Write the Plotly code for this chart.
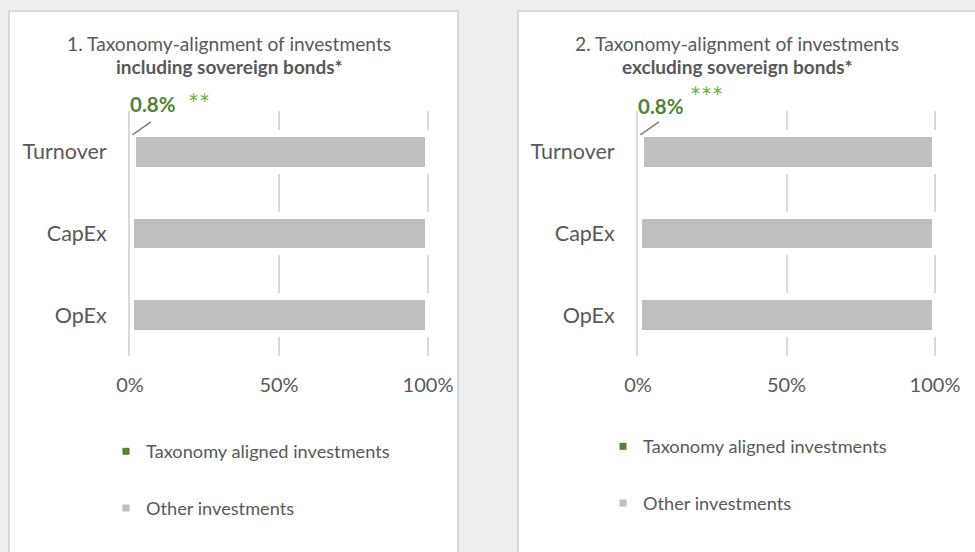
import plotly.graph_objects as go

# ---- data ----
categories = ["Turnover", "CapEx", "OpEx"]
aligned_incl = [0.8, 0.0, 0.0]
other_incl = [99.2, 100.0, 100.0]
aligned_excl = [0.8, 0.0, 0.0]
other_excl = [99.2, 100.0, 100.0]
x_ticks = [0, 50, 100]
x_tick_labels = ["0%", "50%", "100%"]
series_names = ["Taxonomy aligned investments", "Other investments"]
panel_titles = [("1. Taxonomy-alignment of investments", "including sovereign bonds*"),
                ("2. Taxonomy-alignment of investments", "excluding sovereign bonds*")]
aligned_label = "0.8%"
footnote_marks = ["**", "***"]

GREEN = "#548235"
LIGHT_GREEN = "#70ad47"
GREY_BAR = "#bfbfbf"
GRID = "#d9d9d9"
TEXT = "#595959"
FONT = "Lato"
W, H = 975, 552
X_MAX = 100.8

fig = go.Figure()

panels = [(aligned_incl, other_incl, "x", "y", "legend"),
          (aligned_excl, other_excl, "x2", "y2", "legend2")]
for aligned, other, xa, ya, lg in panels:
    fig.add_trace(go.Bar(y=categories, x=aligned, orientation="h", name=series_names[0],
                         marker=dict(color=GREEN, line=dict(color="white", width=7)),
                         width=0.45, xaxis=xa, yaxis=ya, showlegend=False, hoverinfo="x+y"))
    fig.add_trace(go.Bar(y=categories, x=other, orientation="h", name=series_names[1],
                         marker=dict(color=GREY_BAR, line=dict(color="white", width=7)),
                         width=0.45, xaxis=xa, yaxis=ya, showlegend=False, hoverinfo="x+y"))
    # legend entries (small square markers)
    fig.add_trace(go.Scatter(x=[None], y=[None], mode="markers", name=series_names[0],
                             marker=dict(symbol="square", size=7, color=GREEN),
                             xaxis=xa, yaxis=ya, legend=lg, legendgroup="a"))
    fig.add_trace(go.Scatter(x=[None], y=[None], mode="markers", name=series_names[1],
                             marker=dict(symbol="square", size=7, color=GREY_BAR),
                             xaxis=xa, yaxis=ya, legend=lg, legendgroup="b"))

def px_x(v):
    return v / W

def px_y(v):
    return 1 - v / H

unit1 = (428 - 130) / 100
unit2 = (935 - 638) / 100
xdom1 = [px_x(130), px_x(130 + unit1 * X_MAX)]
xdom2 = [px_x(638), px_x(638 + unit2 * X_MAX)]
ydom = [px_y(356), px_y(111)]

xaxis_common = dict(range=[0, X_MAX], tickvals=x_ticks, ticktext=x_tick_labels,
                    showgrid=True, gridcolor=GRID, gridwidth=2, zeroline=False,
                    showline=False, ticks="", ticklabelstandoff=15, automargin=False,
                    tickfont=dict(family=FONT, size=20, color=TEXT), fixedrange=True)
yaxis_common = dict(categoryorder="array", categoryarray=categories[::-1],
                    showgrid=False, zeroline=False, showline=True, linecolor=GRID,
                    linewidth=2, ticks="", ticklabelstandoff=17, automargin=False,
                    tickfont=dict(family=FONT, size=21.5, color=TEXT), fixedrange=True)

shapes = []
for x0, x1 in [(9, 458), (518, 990)]:
    shapes.append(dict(type="rect", xref="paper", yref="paper",
                       x0=px_x(x0), x1=px_x(x1), y0=px_y(570), y1=px_y(11),
                       fillcolor="white", line=dict(color=GRID, width=2), layer="below"))

annotations = []
title_centers = [229, 737]
for (t1, t2), cx in zip(panel_titles, title_centers):
    annotations.append(dict(text=t1, xref="paper", yref="paper", x=px_x(cx), y=px_y(43),
                            xanchor="center", yanchor="middle", showarrow=False,
                            font=dict(family=FONT, size=19.2, color=TEXT)))
    annotations.append(dict(text="<b>" + t2 + "</b>", xref="paper", yref="paper",
                            x=px_x(cx), y=px_y(67), xanchor="center", yanchor="middle",
                            showarrow=False, font=dict(family=FONT, size=19, color=TEXT)))

# value labels with leader lines
label_specs = [("x", "y", 104, 104, 186), ("x2", "y2", 106, 97, 688)]
for (xa, ya, ly, sy, sx), mark, aligned in zip(label_specs, footnote_marks, [aligned_incl, aligned_excl]):
    annotations.append(dict(text="<b>" + aligned_label + "</b>", xref=xa, yref="paper",
                            x=0, y=px_y(ly), xanchor="left", yanchor="middle", xshift=-2,
                            showarrow=False, font=dict(family=FONT, size=20.5, color=GREEN)))
    annotations.append(dict(text=mark, xref="paper", yref="paper", x=px_x(sx), y=px_y(sy),
                            xanchor="left", yanchor="middle", showarrow=False,
                            font=dict(family=FONT, size=26, color=LIGHT_GREEN)))
    annotations.append(dict(text="", xref=xa, yref=ya, x=aligned[0], y=categories[0],
                            yshift=17, showarrow=True, arrowhead=0, arrowwidth=1.5,
                            arrowcolor="#7f7f7f", ax=20, ay=-14, standoff=0))

legend_common = dict(orientation="v", bgcolor="rgba(0,0,0,0)", borderwidth=0,
                     font=dict(family=FONT, size=18.2, color=TEXT), tracegroupgap=30,
                     itemclick=False, itemdoubleclick=False, xanchor="left", yanchor="top")

fig.update_layout(
    width=W, height=H, margin=dict(l=0, r=0, t=0, b=0, autoexpand=False),
    paper_bgcolor="#efefef", plot_bgcolor="rgba(0,0,0,0)",
    barmode="stack", bargap=0.55,
    xaxis=dict(domain=xdom1, anchor="y", **xaxis_common),
    yaxis=dict(domain=ydom, anchor="x", **yaxis_common),
    xaxis2=dict(domain=xdom2, anchor="y2", **xaxis_common),
    yaxis2=dict(domain=ydom, anchor="x2", **yaxis_common),
    shapes=shapes, annotations=annotations,
    legend=dict(x=px_x(106), y=px_y(433), **legend_common),
    legend2=dict(x=px_x(603), y=px_y(428), **legend_common),
    showlegend=True,
)

fig.write_html("out.html", config={"displayModeBar": False},
               post_script="document.body.style.margin='0';document.body.style.overflow='hidden';")
